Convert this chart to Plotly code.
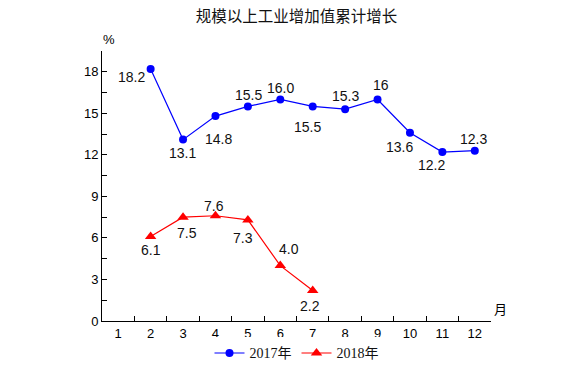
import plotly.graph_objects as go

months = ["1", "2", "3", "4", "5", "6", "7", "8", "9", "10", "11", "12"]
months_2017 = ["2", "3", "4", "5", "6", "7", "8", "9", "10", "11", "12"]
values_2017 = [18.2, 13.1, 14.8, 15.5, 16.0, 15.5, 15.3, 16.0, 13.6, 12.2, 12.3]
labels_2017 = ["18.2", "13.1", "14.8", "15.5", "16.0", "15.5", "15.3", "16", "13.6", "12.2", "12.3"]
months_2018 = ["2", "3", "4", "5", "6", "7"]
values_2018 = [6.1, 7.5, 7.6, 7.3, 4.0, 2.2]
labels_2018 = ["6.1", "7.5", "7.6", "7.3", "4.0", "2.2"]
y_ticks = [0, 3, 6, 9, 12, 15, 18]

# label offsets in pixels (dx, dy; dy positive = downwards)
off_2017 = [(-19, 8), (-1, 13), (3, 23), (1, -11), (0, -11), (-5, 21), (0, -13), (3, -14), (-10, 14), (-11, 13), (-1, -12)]
off_2018 = [(0, 13), (4, 16), (-1, -10), (-5, 18), (9, -17), (-3, 15)]

fig = go.Figure()
fig.add_trace(go.Scatter(x=months_2017, y=values_2017, mode="lines+markers", name="2017年",
                         line=dict(color="#0000FF", width=1.2),
                         marker=dict(symbol="circle", size=8, color="#0000FF")))
fig.add_trace(go.Scatter(x=months_2018, y=values_2018, mode="lines+markers", name="2018年",
                         line=dict(color="#FF0000", width=1.2),
                         marker=dict(symbol="triangle-up", size=10, color="#FF0000")))

label_font = dict(family="Liberation Sans, Arial, sans-serif", size=14, color="#111111")
for m, v, t, (dx, dy) in zip(months_2017, values_2017, labels_2017, off_2017):
    fig.add_annotation(x=months.index(m), y=v, text=t, showarrow=False, xshift=dx, yshift=-dy, font=label_font)
for m, v, t, (dx, dy) in zip(months_2018, values_2018, labels_2018, off_2018):
    fig.add_annotation(x=months.index(m), y=v, text=t, showarrow=False, xshift=dx, yshift=-dy, font=label_font)

fig.add_annotation(x=0, y=1.0, xref="paper", yref="paper", text="%", showarrow=False,
                   xanchor="left", yanchor="bottom", xshift=-1, yshift=2,
                   font=dict(family="Liberation Sans, Arial, sans-serif", size=13, color="#000"))
fig.add_annotation(x=1.0, y=0, xref="paper", yref="paper", text="月", showarrow=False,
                   xanchor="left", yanchor="bottom", xshift=1, yshift=1,
                   font=dict(family="Noto Sans CJK SC", size=13, color="#000"))

fig.update_layout(
    width=571, height=385,
    margin=dict(l=102, r=80, t=51, b=64),
    paper_bgcolor="white", plot_bgcolor="white",
    title=dict(text="规模以上工业增加值累计增长", x=0.5, xref="paper", y=0.956, yanchor="middle",
               font=dict(family="Noto Sans CJK SC", size=15.5, color="#111")),
    showlegend=True,
    legend=dict(orientation="h", x=0.5, xanchor="center", y=-0.12, yanchor="middle",
                font=dict(family="Liberation Serif, Noto Sans CJK SC", size=14, color="#111"),
                itemwidth=30, tracegroupgap=0),
    xaxis=dict(type="category", categoryorder="array", categoryarray=months,
               range=[-0.5, 11.5], tickson="boundaries", ticks="inside", ticklen=5,
               tickcolor="#000", showline=True, linecolor="#000", linewidth=1,
               showgrid=False, zeroline=False,
               tickfont=dict(family="Liberation Sans, Arial, sans-serif", size=13, color="#000")),
    yaxis=dict(range=[0, 19.5], tickvals=y_ticks, ticks="inside", ticklen=5, tickcolor="#000",
               minor=dict(dtick=1.5, tick0=0, ticks="inside", ticklen=5, tickcolor="#000"),
               showline=True, linecolor="#000", linewidth=1, showgrid=False, zeroline=False,
               tickfont=dict(family="Liberation Sans, Arial, sans-serif", size=13, color="#000")),
)

fig.write_html("out.html", config={"displayModeBar": False},
               post_script="document.body.style.margin='0';")
